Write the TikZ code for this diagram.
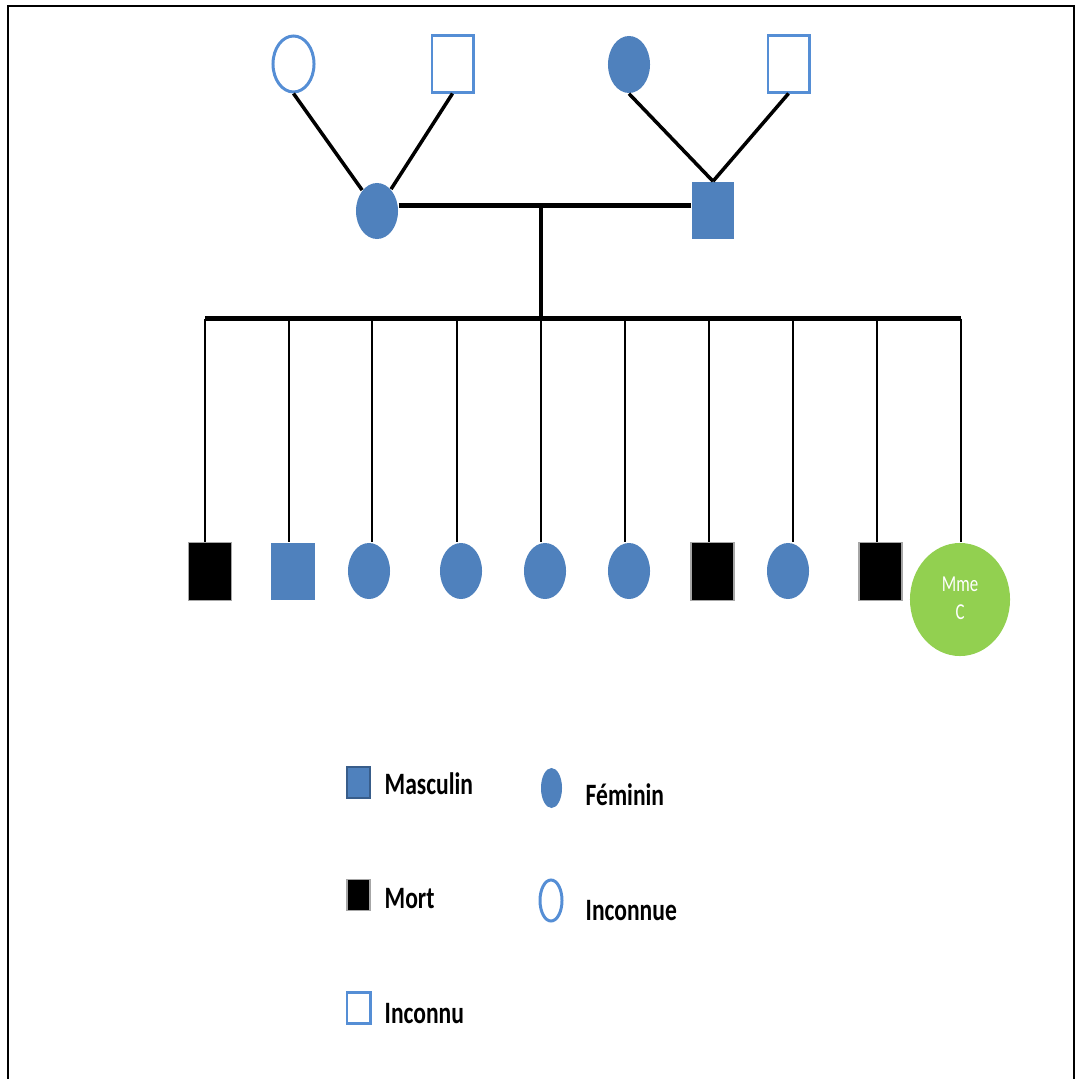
\documentclass[tikz,border=0pt]{standalone}
\usepackage{fontspec}
\setmainfont{Carlito}
\usepackage{graphicx}
\usetikzlibrary{
    positioning,
    shapes.geometric
}
\definecolor{PedBlue}{RGB}{79,129,189}
\definecolor{PedLine}{RGB}{85,142,213}
\definecolor{PedDark}{RGB}{56,93,138}
\definecolor{PedGreen}{RGB}{146,208,80}
\newcommand{\lgtext}[1]{\scalebox{1}[1.32]{\fontsize{6.7}{8}\selectfont\bfseries #1}}
\tikzset{
  masc/.style    = {rectangle, fill=PedBlue, inner sep=0pt,
                    minimum width=0.42cm, minimum height=0.57cm},
  dead/.style    = {rectangle, fill=black, draw=gray!70, line width=0.3pt,
                    inner sep=0pt, minimum width=0.43cm, minimum height=0.58cm},
  fem/.style     = {ellipse, fill=PedBlue, inner sep=0pt,
                    minimum width=0.42cm, minimum height=0.56cm},
  unkm/.style    = {rectangle, draw=PedLine, line width=0.85pt, inner sep=0pt,
                    minimum width=0.41cm, minimum height=0.56cm},
  unkf/.style    = {ellipse, draw=PedLine, line width=0.85pt, inner sep=0pt,
                    minimum width=0.41cm, minimum height=0.56cm},
  patient/.style = {ellipse, fill=PedGreen, text=white, inner sep=0pt,
                    minimum width=1.00cm, minimum height=1.13cm}
}

\begin{document}
\begin{tikzpicture}[
    x=0.01cm, y=-0.01cm,
    rel/.style={line width=1pt},
    bar/.style={line width=1.4pt},
    stem/.style={line width=1.2pt},
    drop/.style={line width=0.8pt},
    frame/.style={line width=0.5pt},
    lgsq/.style={minimum width=0.23cm, minimum height=0.31cm},
    lgt/.style={inner sep=0pt, anchor=base west}
]
\useasboundingbox (0,0) rectangle (1077,1079);
\draw[frame] (8,1079) -- (8,6) -- (1074,6) -- (1074,1079);

% grands-parents
\node[unkf] (gf1) at (293.5,64) {};
\node[unkm] (gm1) at (452.5,64) {};
\node[fem, minimum height=0.57cm] (gf2) at (629,64.5) {};
\node[unkm] (gm2) at (788.5,64) {};

% parents
\node[fem] (mere) at (377,211) {};
\node[masc] (pere) at (713,210.5) {};
\coordinate (mar) at (541,205.5);

\draw[rel] (gf1.south) -- (mere);
\draw[rel] (gm1.south) -- (mere);
\draw[rel] (gf2.south) -- (pere.north);
\draw[rel] (gm2.south) -- (pere.north);
\draw[bar] (mere.east |- mar) -- (pere.west |- mar);

% fratrie
\coordinate (t1) at (205,318.5);
\coordinate (t2) at (289,318.5);
\coordinate (t3) at (372,318.5);
\coordinate (t4) at (457,318.5);
\coordinate (t5) at (541,318.5);
\coordinate (t6) at (625,318.5);
\coordinate (t7) at (709,318.5);
\coordinate (t8) at (793,318.5);
\coordinate (t9) at (877,318.5);
\coordinate (t10) at (961,318.5);

\node[dead] (k1) at (210,571.5) {};
\node[masc, minimum width=0.43cm] (k2) at (293,571.5) {};
\node[fem] (k3) at (369,571) {};
\node[fem] (k4) at (461,571) {};
\node[fem] (k5) at (545,571) {};
\node[fem] (k6) at (629,571) {};
\node[dead] (k7) at (712.5,571.5) {};
\node[fem] (k8) at (788,571) {};
\node[dead] (k9) at (880.5,571.5) {};
\node[patient] (k10) at (960,599.5)
    {\scalebox{1}[1.35]{\fontsize{4.8}{5.9}\selectfont
     \begin{tabular}{@{}c@{}}Mme\\C\end{tabular}}};

\draw[stem] (mar) -- (t5);
\draw[bar] (t1) -- (t10);
\draw[drop] (t1) -- (t1 |- k1.north);
\draw[drop] (t2) -- (t2 |- k2.north);
\draw[drop] (t3) -- (t3 |- k3.north);
\draw[drop] (t4) -- (t4 |- k4.north);
\draw[drop] (t5) -- (t5 |- k5.north);
\draw[drop] (t6) -- (t6 |- k6.north);
\draw[drop] (t7) -- (t7 |- k7.north);
\draw[drop] (t8) -- (t8 |- k8.north);
\draw[drop] (t9) -- (t9 |- k9.north);
\draw[drop] (t10) -- (t10 |- k10.north);

% legende
\node[masc, lgsq, draw=PedDark, line width=0.6pt] (lmasc) at (358.5,782.5) {};
\node[dead, lgsq] (lmort) at (358.5,895) {};
\node[unkm, lgsq] (linm) at (358.5,1008) {};
\node[fem, minimum width=0.21cm, minimum height=0.40cm] (lfem) at (551.5,788) {};
\node[unkf, minimum width=0.22cm, minimum height=0.41cm] (linf) at (551,900.5) {};

\node[lgt] (tmasc) at (384,794) {\lgtext{Masculin}};
\node[lgt] (tmort) at (384,908) {\lgtext{Mort}};
\node[lgt] (tinm) at (384,1023) {\lgtext{Inconnu}};
\node[lgt] (tfem) at (585,805) {\lgtext{Féminin}};
\node[lgt] (tinf) at (585,920) {\lgtext{Inconnue}};
\end{tikzpicture}
\end{document}
